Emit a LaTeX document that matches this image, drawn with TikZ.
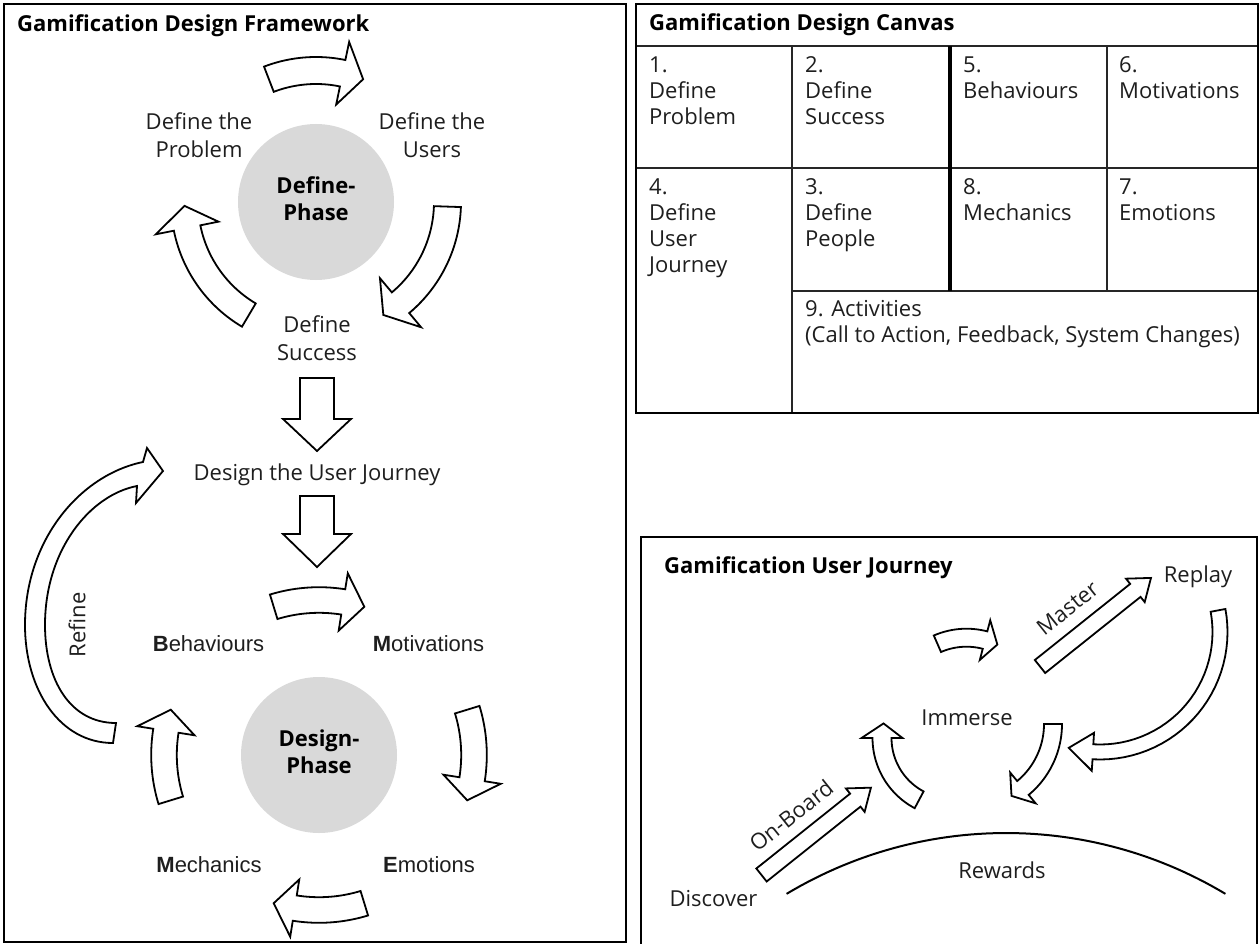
\documentclass[tikz,border=0pt]{standalone}
\usepackage{fontspec}
\setmainfont{Open Sans}
\newfontfamily\arialf{Liberation Sans}
\definecolor{phasegray}{HTML}{D9D9D9}
\definecolor{ink}{HTML}{1E1E1E}
\newcommand\mlc[1]{\begin{tabular}[t]{@{}c@{}}#1\end{tabular}}
\newcommand\mll[1]{\begin{tabular}[t]{@{}l@{}}#1\end{tabular}}
% curved block arrow: cx, cy, R, tail angle, head-base angle, tip angle, half shaft width, half head width
\newcommand\arcarrow[8]{%
  \draw[blk] plot[domain=0:1, samples=30] ({#1+(#3+#7)*cos(#4+(#5-#4)*\x)},{#2+(#3+#7)*sin(#4+(#5-#4)*\x)})
    -- ({#1+(#3+#8)*cos(#5)},{#2+(#3+#8)*sin(#5)})
    -- ({#1+#3*cos(#6)},{#2+#3*sin(#6)})
    -- ({#1+(#3-#8)*cos(#5)},{#2+(#3-#8)*sin(#5)})
    -- plot[domain=0:1, samples=30] ({#1+(#3-#7)*cos(#5+(#4-#5)*\x)},{#2+(#3-#7)*sin(#5+(#4-#5)*\x)})
    -- cycle;}
% straight block arrow: x, y (tail centre), angle, length, half shaft width, half head width, head length
\newcommand\strarrow[7]{%
  \begin{scope}[shift={(#1,#2)}, rotate=#3]
    \draw[blk] (0,#5) -- ({#4-#7},#5) -- ({#4-#7},#6) -- (#4,0) -- ({#4-#7},-#6) -- ({#4-#7},-#5) -- (0,-#5) -- cycle;
  \end{scope}}
\begin{document}
\begin{tikzpicture}[x=1pt,y=-1pt,
  blk/.style={draw=black, fill=white, line width=1.8pt, line join=miter},
  panel/.style={draw=black, line width=2.6pt},
  gridline/.style={draw=black!85, line width=1.4pt},
  lab/.style={inner sep=0pt, text=ink, font=\fontsize{22}{28}\selectfont},
  cell/.style={inner sep=0pt, text=ink, anchor=base west, font=\fontsize{22}{26}\selectfont},
  ttl/.style={inner sep=0pt, text=black, anchor=base west, font=\bfseries\fontsize{22}{26}\selectfont},
  bm/.style={inner sep=0pt, text=ink, anchor=base, font=\arialf\fontsize{22}{26}\selectfont},
  phase/.style={circle, fill=phasegray, minimum size=156pt, inner sep=0pt, text=black, font=\bfseries\fontsize{22}{27}\selectfont}]
\useasboundingbox (0,0) rectangle (1260,944);
\clip (0,0) rectangle (1260,944);

% ---------------- left panel: framework ----------------
\draw[panel] (4,4) rectangle (626,942);
\node[ttl] (fwtitle) at (17,32) {Gamification Design Framework};

\node[phase] (defphase) at (316,202) {\mlc{Define-\\Phase}};
\arcarrow{316}{202}{131.5}{249}{281.7}{291}{13.5}{32}
\arcarrow{316}{202}{131.5}{2}{50}{59.2}{13.5}{32}
\arcarrow{316}{202}{131.5}{120.7}{168.6}{178.3}{13.5}{32}
\node[lab, anchor=base] (dprob) at (199,130) {\mlc{Define the\\Problem}};
\node[lab, anchor=base] (dusers) at (432,130) {\mlc{Define the\\Users}};
\node[lab, anchor=base] (dsucc) at (317,332) {\mlc{Define\\Success}};

\strarrow{317}{378}{-90}{73}{17}{34}{32}
\node[lab, anchor=base] (journey) at (317,480) {Design the User Journey};
\strarrow{317}{496}{-90}{71}{17}{34}{33}

\node[phase] (desphase) at (319,755) {\mlc{Design-\\Phase}};
\arcarrow{319}{755}{155}{253}{279}{287}{12.8}{29}
\arcarrow{319}{755}{155}{343}{369}{377}{12.8}{29}
\arcarrow{319}{755}{155}{73}{99}{107}{12.8}{29}
\arcarrow{319}{755}{155}{163}{189}{197}{12.8}{29}
\node[bm] (beh) at (208.5,651) {\textbf{B}ehaviours};
\node[bm] (mot) at (428.5,651) {\textbf{M}otivations};
\node[bm] (mech) at (209,872) {\textbf{M}echanics};
\node[bm] (emo) at (429,872) {\textbf{E}motions};

% refine arrow
\draw[blk] (116,723) -- (113,743) .. controls (60,743) and (25,690) .. (25,625)
  .. controls (25,540) and (80,475) .. (143,462) -- (147,448) -- (163,471) -- (136,503) -- (137,486)
  .. controls (90,495) and (45,550) .. (45,625) .. controls (45,680) and (70,723) .. (116,723) -- cycle;
\node[lab, rotate=90] (refine) at (77,625) {Refine};

% ---------------- canvas ----------------
\draw[gridline] (636,46) -- (1258,46);
\draw[gridline] (636,168) -- (1258,168);
\draw[gridline] (792,46) -- (792,413);
\draw[gridline] (1107,46) -- (1107,291);
\draw[gridline] (792,291) -- (1258,291);
\draw[line width=3.2pt] (950,46) -- (950,291);
\draw[panel] (636,4) rectangle (1258,413);
\node[ttl] (cvtitle) at (649,31) {Gamification Design Canvas};
\node[cell] (c1) at (649,73) {\mll{1.\\Define\\Problem}};
\node[cell] (c2) at (805,73) {\mll{2.\\Define\\Success}};
\node[cell] (c5) at (963,73) {\mll{5.\\Behaviours}};
\node[cell] (c6) at (1119,73) {\mll{6.\\Motivations}};
\node[cell] (c4) at (649,194) {\mll{4.\\Define\\User\\Journey}};
\node[cell] (c3) at (805,194) {\mll{3.\\Define\\People}};
\node[cell] (c8) at (963,194) {\mll{8.\\Mechanics}};
\node[cell] (c7) at (1119,194) {\mll{7.\\Emotions}};
\node[cell] (c9) at (805,316) {\mll{9. Activities\\(Call to Action, Feedback, System Changes)}};

% ---------------- user journey ----------------
\draw[panel] (641,950) -- (641,537) -- (1257,537) -- (1257,950);
\node[ttl] (jtitle) at (664,573) {Gamification User Journey};
\node[lab, anchor=base] (replay) at (1198,582) {Replay};
\node[lab, anchor=base] (immerse) at (967,725) {Immerse};
\node[lab, anchor=base] (discover) at (713.5,906) {Discover};
\node[lab, anchor=base] (rewards) at (1002,878) {Rewards};
\draw[line width=2pt] plot[domain=239:301, samples=60] ({1006+426*cos(\x)},{1259+426*sin(\x)});

\strarrow{761.5}{875}{38.6}{140}{8.3}{15}{20}
\strarrow{1040}{666.5}{38.6}{142}{8.3}{15}{20}
\arcarrow{952}{738}{70}{118}{180}{192}{9.5}{20.5}
\arcarrow{966.5}{710.7}{73}{246.5}{284.7}{295}{9}{20.5}
\arcarrow{1100}{632}{120}{349.6}{453.4}{465.1}{7.5}{19}
\arcarrow{970}{724}{83}{0}{50.4}{60}{9}{20}
\node[lab, rotate=38.6] (onboard) at (791,815.5) {On-Board};
\node[lab, rotate=38.6] (master) at (1067.5,608) {Master};
\end{tikzpicture}
\end{document}
